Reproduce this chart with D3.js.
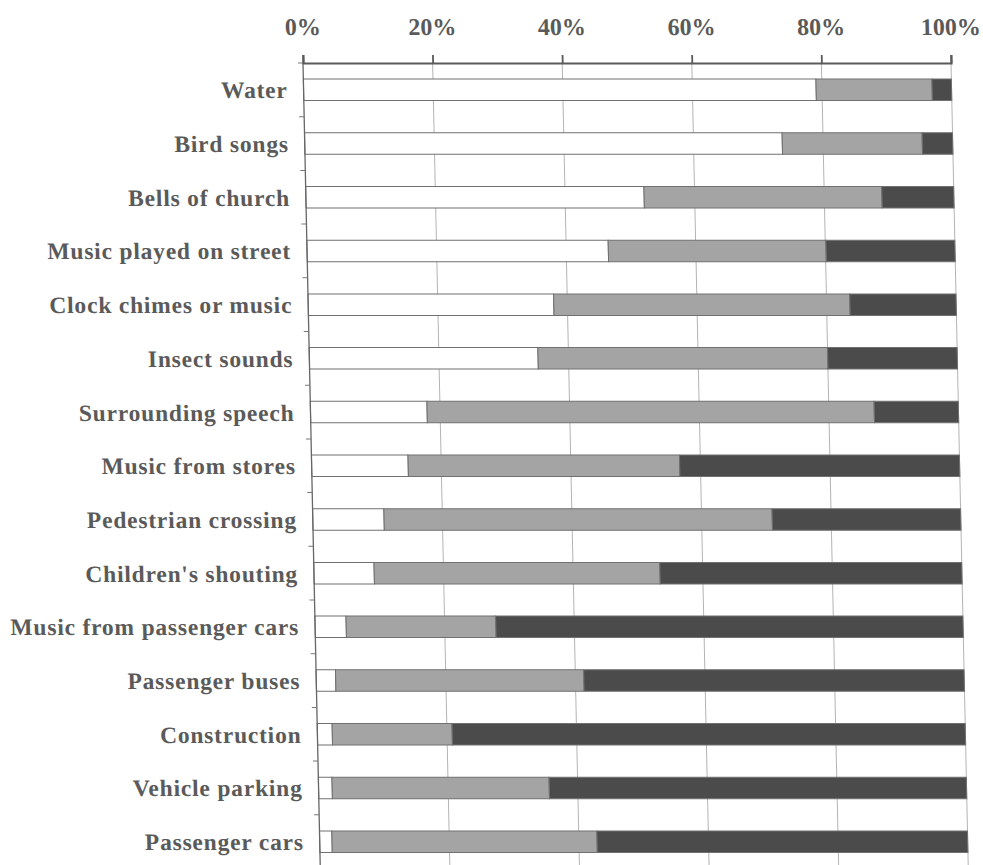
<!DOCTYPE html>
<html>
<head>
<meta charset="utf-8">
<script src="https://cdn.jsdelivr.net/npm/d3@7/dist/d3.min.js"></script>
<style>
  html, body { margin: 0; padding: 0; background: #fff; }
  svg { display: block; }
</style>
</head>
<body>
<svg id="chart" width="983" height="865"></svg>
<script>
const categories = [
  "Water", "Bird songs", "Bells of church", "Music played on street",
  "Clock chimes or music", "Insect sounds", "Surrounding speech",
  "Music from stores", "Pedestrian crossing", "Children's shouting",
  "Music from passenger cars", "Passenger buses", "Construction",
  "Vehicle parking", "Passenger cars"
];
const seriesNames = ["s1", "s2", "s3"];
const series1 = [79.1, 73.7, 52.2, 46.5, 37.9, 35.3, 18.0, 14.9, 11.0, 9.3, 4.8, 3.0, 2.3, 2.1, 1.9];
const series2 = [17.9, 21.6, 36.7, 33.6, 45.7, 44.7, 69.0, 41.9, 59.9, 44.1, 23.1, 38.3, 18.5, 33.5, 40.9];
const series3 = [3.0, 4.7, 11.1, 19.9, 16.4, 20.0, 13.0, 43.2, 29.1, 46.6, 72.1, 58.7, 79.2, 64.4, 57.2];
const tickValues = [0, 0.2, 0.4, 0.6, 0.8, 1.0];
const tickLabels = ["0%", "20%", "40%", "60%", "80%", "100%"];
const colors = ["#ffffff", "#a4a4a4", "#4b4b4b"];

const rows = categories.map((c, i) => ({cat: c, s1: series1[i], s2: series2[i], s3: series3[i]}));
const stack = d3.stack().keys(seriesNames).offset(d3.stackOffsetExpand);
const stacked = stack(rows);

const svg = d3.select("#chart");
const plotLeft = 303, plotTop = 63, W = 648, H = 805.5;
const g = svg.append("g").attr("transform", `translate(${plotLeft},${plotTop}) skewX(1.23)`);

const x = d3.scaleLinear().domain([0, 1]).range([0, W]);
const y = d3.scaleBand().domain(categories).range([0, H]).paddingInner(0.6).paddingOuter(0.3);
const step = y.step();

// gridlines
g.append("g").selectAll("line").data(tickValues.slice(1)).join("line")
  .attr("x1", d => x(d)).attr("x2", d => x(d))
  .attr("y1", 0).attr("y2", H)
  .attr("stroke", "#b4b4b4").attr("stroke-width", 1);

// bars
g.append("g").selectAll("g").data(stacked).join("g")
  .attr("fill", (d, i) => colors[i])
  .selectAll("rect").data(d => d).join("rect")
  .attr("x", d => x(d[0]))
  .attr("width", d => x(d[1]) - x(d[0]))
  .attr("y", d => y(d.data.cat))
  .attr("height", y.bandwidth())
  .attr("stroke", "#707070").attr("stroke-width", 1);

// left axis line and minor ticks
g.append("line").attr("x1", 0).attr("x2", 0).attr("y1", 0).attr("y2", H)
  .attr("stroke", "#666").attr("stroke-width", 1.3);
g.append("g").selectAll("line").data(d3.range(categories.length + 1)).join("line")
  .attr("x1", -5).attr("x2", 0)
  .attr("y1", d => d * step).attr("y2", d => d * step)
  .attr("stroke", "#777").attr("stroke-width", 1);

// top axis
const axisTop = d3.axisTop(x).tickValues(tickValues).tickFormat((d, i) => tickLabels[i]).tickSize(8).tickPadding(20);
const ax = g.append("g").call(axisTop);
ax.select(".domain").attr("stroke", "#5a5a5a").attr("stroke-width", 2.2);
ax.selectAll(".tick line").attr("stroke", "#5a5a5a").attr("stroke-width", 1.8);
ax.selectAll(".tick text")
  .attr("fill", "#5a5a5a")
  .attr("font-family", "'Liberation Serif', 'DejaVu Serif', serif")
  .attr("font-weight", "bold")
  .attr("font-size", 24);

// category labels
g.append("g").selectAll("text").data(categories).join("text")
  .attr("x", -16)
  .attr("y", d => y(d) + y.bandwidth() / 2)
  .attr("dy", "0.36em")
  .attr("text-anchor", "end")
  .attr("fill", "#5a5a5a")
  .attr("font-family", "'Liberation Serif', 'DejaVu Serif', serif")
  .attr("font-weight", "bold")
  .attr("font-size", 23.5)
  .attr("letter-spacing", 0.8)
  .text(d => d);
</script>
</body>
</html>
